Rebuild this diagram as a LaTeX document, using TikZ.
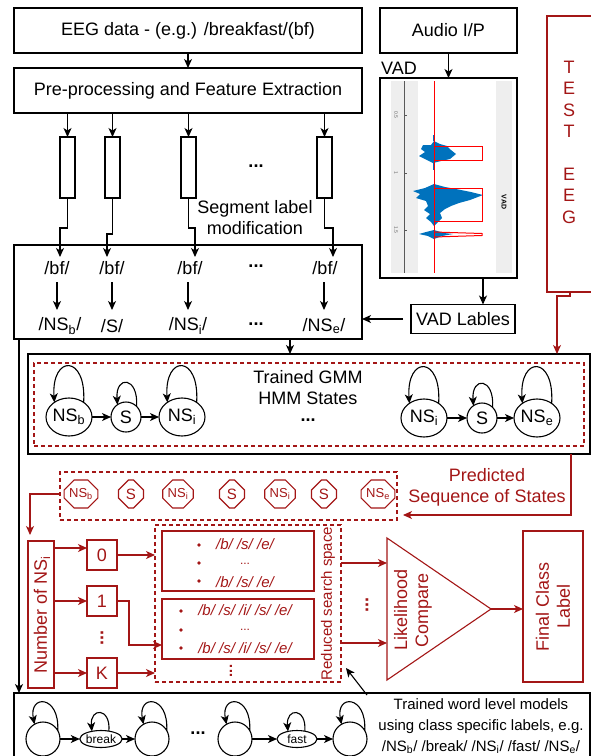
\documentclass[tikz,border=0pt]{standalone}
\usepackage{fontspec}
\setmainfont{Liberation Sans}
\usetikzlibrary{arrows.meta,shapes.misc,shapes.geometric}
\definecolor{dred}{RGB}{163,22,22}
\definecolor{vblue}{RGB}{0,114,189}
\definecolor{vgrey}{RGB}{238,238,238}
\begin{document}
\begin{tikzpicture}[x=1pt,y=-1pt,
  every node/.style={inner sep=0pt, outer sep=0pt},
  box/.style={draw, line width=1.1pt, align=center},
  rbox/.style={draw=dred, text=dred, line width=1.1pt, align=center},
  rdash/.style={draw=dred, line width=1.1pt, dash pattern=on 4pt off 3pt},
  arr/.style={line width=1.1pt, -{Stealth[length=9pt,width=8pt,inset=2.5pt]}},
  rarr/.style={arr, color=dred},
  f18/.style={font=\fontsize{18pt}{21pt}\selectfont},
  f15/.style={font=\fontsize{15pt}{21pt}\selectfont},
  f13/.style={font=\fontsize{13pt}{15pt}\selectfont},
  itm/.style={text=dred, font=\fontsize{15pt}{18pt}\selectfont\itshape},
  rtxt/.style={text=dred},
  st/.style={draw, ellipse, line width=1.1pt, minimum width=46pt, minimum height=38pt, f18},
  sst/.style={draw, circle, line width=1.1pt, minimum size=30pt, f18},
  oct/.style={chamfered rectangle, chamfered rectangle xsep=5pt, chamfered rectangle ysep=5pt,
     draw=dred, text=dred, line width=1.1pt, minimum height=28pt},
  bc/.style={draw, circle, line width=1.1pt, minimum size=34pt},
  be/.style={draw, ellipse, line width=1.1pt, minimum width=40pt, minimum height=17pt, font=\fontsize{12pt}{14pt}\selectfont},
  dotsv/.style={rotate=90, font=\fontsize{18pt}{20pt}\selectfont\bfseries},
]
\useasboundingbox (0,0) rectangle (591,756);
\clip (0,0) rectangle (591,756);

% ---------- top part ----------
\node[box, minimum width=348pt, minimum height=45pt, f18] (eeg) at (188,30.5) {EEG data - (e.g.) /breakfast/(bf)};
\node[box, minimum width=348pt, minimum height=45pt, f18] (pre) at (188,90.5) {Pre-processing and Feature Extraction};
\draw[arr] (eeg) -- (pre);

\foreach \n/\x in {r1/67.5, r2/112.5, r3/188.5, r4/324.5}{
  \node[box, minimum width=15pt, minimum height=61pt] (\n) at (\x,167.5) {};
  \draw[arr] (pre.south -| \n) -- (\n.north);
}
\node[font=\fontsize{18pt}{21pt}\selectfont\bfseries] (topdots) at (256,166) {...};
\node[f18, align=center] (seg) at (255,218) {Segment label\\modification};

\node[box, minimum width=348pt, minimum height=94pt] (lab) at (188,292) {};
\coordinate (t1) at (60,257);
\coordinate (t2) at (107,257);
\coordinate (t3) at (195,257);
\coordinate (t4) at (333,257);
\draw[arr] (r1.south) -- ++(0,30) -| (t1);
\draw[arr] (r2.south) -- ++(0,36) -| (t2);
\draw[arr] (r3.south) -- ++(0,30) -| (t3);
\draw[arr] (r4.south) -- ++(0,30) -| (t4);

\node[f18] (bf1) at (57,268) {/bf/};
\node[f18] (bf2) at (112,268) {/bf/};
\node[f18] (bf3) at (190,268) {/bf/};
\node[font=\fontsize{18pt}{21pt}\selectfont\bfseries] (bfd) at (256,266) {...};
\node[f18] (bf4) at (325,268) {/bf/};
\node[f18] (ns1) at (60,326) {/NS\textsubscript{b}/};
\node[f18] (ns2) at (112,326) {/S/};
\node[f18] (ns3) at (188,326) {/NS\textsubscript{i}/};
\node[font=\fontsize{18pt}{21pt}\selectfont\bfseries] (nsd) at (256,324) {...};
\node[f18] (ns4) at (324,326) {/NS\textsubscript{e}/};
\coordinate (k1) at (57,282);
\coordinate (k2) at (112,282);
\coordinate (k3) at (188,282);
\coordinate (k4) at (324,282);
\foreach \k in {k1,k2,k3,k4}{ \draw[arr] (\k) -- ++(0,28); }

% ---------- audio / VAD ----------
\node[box, minimum width=137pt, minimum height=45pt, f18] (audio) at (448.5,30.5) {Audio I/P};
\node[box, minimum width=137pt, minimum height=200pt] (vad) at (448.5,178) {};
\node[f18] (vadt) at (399,68) {VAD};
\draw[arr] (audio) -- (vad);
% plot
\fill[vgrey] (391,81) rectangle (418,273);
\fill[vgrey] (496,81) rectangle (512,273);
\draw[gray!70!black, line width=0.8pt] (404,81) -- (404,273);
\foreach \y/\t in {115/0.5, 173/1, 230/1.5}{
  \draw[gray!70!black, line width=0.6pt] (404,\y) -- (406.5,\y);
  \node[rotate=-90, text=gray!80!black, font=\fontsize{5pt}{6pt}\selectfont] at (396,\y) {\t};
}
\node[rotate=-90, font=\fontsize{7pt}{8pt}\selectfont\bfseries] at (504,202) {VAD};
\fill[vblue] (434,141) -- (431,145) -- (423,145) -- (421,149) -- (425,152) -- (419,156) -- (427,160) -- (433,163) -- (441,161) -- (450,159) -- (456,154) -- (451,150) -- (447,146) -- (440,144) -- cycle;
\fill[vblue] (434,184) -- (425,188) -- (413,191) -- (420,194) -- (416,198) -- (426,201) -- (428,206) -- (424,210) -- (430,214) -- (426,218) -- (431,222) -- (434,226) -- (438,222) -- (442,218) -- (440,213) -- (445,209) -- (451,206) -- (459,203) -- (470,200) -- (483,195) -- (471,192) -- (456,189) -- (445,187) -- cycle;
\fill[vblue] (434,230) -- (426,232) -- (419,234) -- (428,236) -- (434,239) -- (442,236) -- (453,234) -- (444,233) -- cycle;
\fill[vblue] (433,135) rectangle (435,141);
\fill[vblue] (433,163) rectangle (435,170);
\draw[red, line width=1pt] (434,81) -- (434,273);
\draw[red, line width=1pt] (434,146) -- (482,146) -- (482,160) -- (434,160);
\draw[red, line width=1pt] (434,188) -- (482,188) -- (482,221) -- (434,221);
\draw[red, line width=1pt] (434,232) -- (482,233.5) -- (482,235.5) -- (434,237);

\node[box, minimum width=104pt, minimum height=29pt, f18] (vadl) at (463,319) {VAD Lables};
\coordinate (va) at (483,278);
\draw[arr] (va) -- (va |- vadl.north);
\draw[arr, shorten <=8pt] (vadl.west) -- (vadl.west -| lab.east);

% ---------- TEST EEG ----------
\node[rbox, minimum width=46pt, minimum height=276pt] (test) at (570,154) {};
\node[rtxt, align=center, font=\fontsize{18pt}{21.4pt}\selectfont] (testl) at (569,142) {T\\E\\S\\T\\[21.4pt]E\\E\\G};

% ---------- HMM ----------
\node[box, minimum width=562pt, minimum height=100pt] (hmm) at (309,404) {};
\node[rdash, minimum width=550pt, minimum height=83pt] (hmmd) at (309,404.5) {};
\coordinate (c1) at (557,296);
\draw[rarr] (test.south) |- (c1) -- (c1 |- hmm.north);
\coordinate (c2) at (290,0);
\draw[arr] (lab.south -| c2) -- (hmm.north -| c2);
\node[f18, align=center] (hmmt) at (308,388) {Trained GMM\\HMM States};
\node[font=\fontsize{18pt}{21pt}\selectfont\bfseries] (hmmdots) at (308,420) {...};

\node[st] (nsb) at (69,417) {NS\textsubscript{b}};
\node[sst] (s1) at (126,417) {S};
\node[st] (nsi) at (182,417) {NS\textsubscript{i}};
\node[st] (nsi2) at (424,418) {NS\textsubscript{i}};
\node[sst] (s2) at (482,418) {S};
\node[st] (nse) at (537,418) {NS\textsubscript{e}};
\draw[arr] (nsb) -- (s1);
\draw[arr] (s1) -- (nsi);
\draw[arr] (nsi2) -- (s2);
\draw[arr] (s2) -- (nse);
\foreach \n in {nsb,nsi,nsi2,nse}{
  \draw[arr] (\n.45) .. controls +(3,-48) and +(-3,-48) .. (\n.135);
}
\foreach \n in {s1,s2}{
  \draw[arr] (\n.45) .. controls +(2,-30) and +(-2,-30) .. (\n.125);
}

% ---------- predicted sequence ----------
\node[rdash, minimum width=337pt, minimum height=48pt] (pred) at (228.5,496) {};
\node[oct, minimum width=30pt, f13] (o1) at (81,494) {NS\textsubscript{b}};
\node[oct, minimum width=25pt, f15] (o2) at (131,494) {S};
\node[oct, minimum width=30pt, f13] (o3) at (178,494) {NS\textsubscript{i}};
\node[oct, minimum width=25pt, f15] (o4) at (232,494) {S};
\node[oct, minimum width=30pt, f13] (o5) at (280,494) {NS\textsubscript{i}};
\node[oct, minimum width=25pt, f15] (o6) at (324,494) {S};
\node[oct, minimum width=30pt, f13] (o7) at (378,494) {NS\textsubscript{e}};
\node[f18, rtxt, align=center] (predt) at (487,487) {Predicted\\Sequence of States};
\coordinate (c4) at (571,0);
\coordinate (c5) at (403,515);
\draw[rarr] (hmm.south -| c4) |- (c5);
\coordinate (c6) at (30,535);
\draw[rarr] (pred.west |- o1) -| (c6);

% ---------- search ----------
\node[rbox, minimum width=26pt, minimum height=147pt] (num) at (41,614.5) {};
\node[f18, rtxt, rotate=90] (numt) at (42,614.5) {Number of NS\textsubscript{i}};
\node[rbox, minimum width=30pt, minimum height=30pt, f18] (b0) at (102,555) {0};
\node[rbox, minimum width=30pt, minimum height=30pt, f18] (b1) at (102,601) {1};
\node[rbox, minimum width=30pt, minimum height=30pt, f18] (bK) at (102,673) {K};
\node[dotsv, text=dred] (bdots) at (102,638) {...};
\coordinate (a0) at (54,548);
\draw[rarr] (a0) -- (a0 -| b0.west);
\draw[rarr] (num.east |- b1) -- (b1.west);
\draw[rarr] (num.east |- bK) -- (bK.west);

\node[rdash, minimum width=186pt, minimum height=157pt] (rss) at (248,603.5) {};
\node[rbox, minimum width=152pt, minimum height=60pt] (l1) at (238,561) {};
\node[rbox, minimum width=152pt, minimum height=60pt] (l2) at (238,629) {};
\foreach \y in {545,563,581}{ \fill[dred] (199,\y) circle (1.9pt); }
\foreach \y in {611,630,648}{ \fill[dred] (181,\y) circle (1.9pt); }
\node[itm] (i1) at (245,544) {/b/ /s/ /e/};
\node[rtxt, font=\fontsize{12pt}{14pt}\selectfont] (i2) at (245,563.5) {...};
\node[itm] (i3) at (245,582) {/b/ /s/ /e/};
\node[itm] (j1) at (245,610) {/b/ /s/ /i/ /s/ /e/};
\node[rtxt, font=\fontsize{12pt}{14pt}\selectfont] (j2) at (245,629.5) {...};
\node[itm] (j3) at (245,648) {/b/ /s/ /i/ /s/ /e/};
\node[dotsv, text=dred, font=\fontsize{15pt}{18pt}\selectfont\bfseries] (ldots) at (231,671) {...};
\node[rtxt, f15, rotate=90] (rsst) at (328,603.5) {Reduced search space};

\draw[rarr] (b0.east) -- (b0.east -| rss.west);
\coordinate (c7) at (129,645);
\draw[rarr] (b1.east) -| (c7) -- (c7 -| l2.west);
\draw[rarr] (bK.east) -- (bK.east -| rss.west);

\coordinate (tA) at (387,538);
\coordinate (tB) at (387,680);
\coordinate (tC) at (491,609);
\draw[dred, line width=1.1pt, line join=miter] (tA) -- (tB) -- (tC) -- cycle;
\node[f18, rtxt, rotate=90, align=center] (trit) at (413,610) {Likelihood\\Compare};
\coordinate (c8) at (0,563);
\coordinate (c9) at (0,643);
\draw[rarr] (rss.east |- c8) -- (tA |- c8);
\draw[rarr] (rss.east |- c9) -- (tA |- c9);
\node[dotsv, text=dred] (tdots) at (367,605) {...};

\node[rbox, minimum width=60pt, minimum height=151pt] (final) at (553,606.5) {};
\node[f18, rtxt, rotate=90, align=center] (finalt) at (553,606.5) {Final Class\\Label};
\draw[rarr] (tC) -- (tC -| final.west);

% ---------- bottom ----------
\node[box, minimum width=576pt, minimum height=80pt] (bot) at (302,733) {};
\coordinate (c3) at (19,0);
\draw[arr] (lab.south -| c3) -- (bot.north -| c3);

\node[bc] (w1) at (43,739) {};
\node[be] (wb) at (101,739) {break};
\node[bc] (w2) at (152,739) {};
\node[font=\fontsize{18pt}{21pt}\selectfont\bfseries] (wdots) at (198,733) {...};
\node[bc] (w3) at (235,739) {};
\node[be] (wf) at (297,739) {fast};
\node[bc] (w4) at (350,739) {};
\draw[arr] (w1) -- (wb);
\draw[arr] (wb) -- (w2);
\draw[arr] (w3) -- (wf);
\draw[arr] (wf) -- (w4);
\foreach \n in {w1,w2,w3,w4}{
  \draw[arr] (\n.30) .. controls +(2,-36) and +(-6,-30) .. (\n.120);
}
\foreach \n in {wb,wf}{
  \draw[arr] (\n.45) .. controls +(2,-24) and +(-2,-24) .. (\n.140);
}
\node[align=center, font=\fontsize{15pt}{21pt}\selectfont] (bott) at (481,726)
  {Trained word level models\\using class specific labels, e.g.\\/NS\textsubscript{b}/ /break/ /NS\textsubscript{i}/ /fast/ /NS\textsubscript{e}/};
\coordinate (c10) at (367,695);
\coordinate (c11) at (346,668);
\draw[arr] (c10) -- (c11);
\end{tikzpicture}
\end{document}
